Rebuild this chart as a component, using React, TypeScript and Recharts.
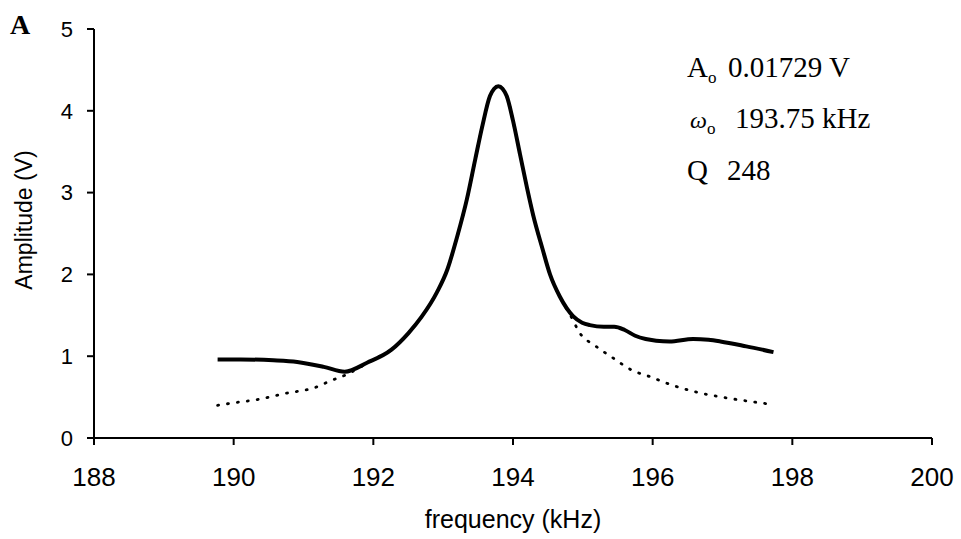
import React from "react";
import { LineChart, Line, XAxis, YAxis } from "recharts";

const measuredFreq = [189.77, 190.1, 190.57, 190.91, 191.29, 191.59, 191.91, 192.26, 192.5, 192.69, 192.91, 193.06, 193.2, 193.34, 193.46, 193.56, 193.67, 193.73, 193.79, 193.85, 193.91, 194.0, 194.1, 194.2, 194.29, 194.42, 194.53, 194.67, 194.86, 194.99, 195.1, 195.3, 195.45, 195.6, 195.75, 195.9, 196.05, 196.24, 196.58, 196.8, 196.97, 197.34, 197.73];
const measuredAmp = [0.96, 0.96, 0.95, 0.93, 0.87, 0.81, 0.92, 1.08, 1.28, 1.48, 1.78, 2.06, 2.46, 2.92, 3.41, 3.81, 4.18, 4.27, 4.3, 4.27, 4.18, 3.88, 3.47, 3.06, 2.72, 2.32, 2.0, 1.73, 1.49, 1.41, 1.38, 1.36, 1.36, 1.32, 1.25, 1.21, 1.19, 1.18, 1.21, 1.2, 1.18, 1.12, 1.05];

const fitFreq = [189.77, 190.0, 190.34, 190.77, 191.14, 191.39, 191.6, 191.8, 192.0, 192.26, 192.5, 192.69, 192.91, 193.06, 193.2, 193.34, 193.46, 193.56, 193.67, 193.73, 193.79, 193.85, 193.91, 194.0, 194.1, 194.2, 194.29, 194.42, 194.53, 194.67, 194.86, 194.93, 195.19, 195.43, 195.7, 195.96, 196.3, 196.63, 197.06, 197.63];
const fitAmp = [0.4, 0.43, 0.47, 0.55, 0.61, 0.7, 0.77, 0.86, 0.96, 1.08, 1.28, 1.48, 1.78, 2.06, 2.46, 2.92, 3.41, 3.81, 4.18, 4.27, 4.3, 4.27, 4.18, 3.88, 3.47, 3.06, 2.72, 2.32, 2.0, 1.73, 1.44, 1.32, 1.12, 0.98, 0.83, 0.75, 0.64, 0.56, 0.49, 0.42];

const xTicks = [188, 190, 192, 194, 196, 198, 200];
const yTicks = [0, 1, 2, 3, 4, 5];

const measuredData = measuredFreq.map((f, i) => ({ f, a: measuredAmp[i] }));
const fitData = fitFreq.map((f, i) => ({ f, a: fitAmp[i] }));

const sans = "'Liberation Sans', Arial, sans-serif";
const serif = "'Liberation Serif', 'Times New Roman', serif";

export default function App() {
  return (
    <div style={{ position: "absolute", left: 0, top: 0, width: 961, height: 539, background: "#fff" }}>
      <LineChart width={961} height={539} margin={{ top: 29, right: 29, left: 34, bottom: 41 }}>
        <XAxis
          type="number"
          dataKey="f"
          domain={[188, 200]}
          ticks={xTicks}
          allowDataOverflow
          height={60}
          axisLine={{ stroke: "#000", strokeWidth: 2 }}
          tickLine={{ stroke: "#000", strokeWidth: 2 }}
          tickSize={7}
          tickMargin={23}
          tick={{ fontSize: 26, fill: "#000", fontFamily: sans }}
        />
        <YAxis
          type="number"
          domain={[0, 5]}
          ticks={yTicks}
          width={60}
          axisLine={{ stroke: "#000", strokeWidth: 2 }}
          tickLine={{ stroke: "#000", strokeWidth: 2 }}
          tickSize={7}
          tickMargin={14}
          tick={{ fontSize: 22, fill: "#000", fontFamily: sans }}
        />
        <Line
          data={fitData}
          dataKey="a"
          type="monotone"
          dot={false}
          stroke="#000"
          strokeWidth={2.8}
          strokeDasharray="1 9"
          strokeLinecap="round"
          isAnimationActive={false}
        />
        <Line
          data={measuredData}
          dataKey="a"
          type="monotone"
          dot={false}
          stroke="#000"
          strokeWidth={4}
          isAnimationActive={false}
        />
      </LineChart>
      <svg width={961} height={539} style={{ position: "absolute", left: 0, top: 0, pointerEvents: "none" }}>
        <text x={10} y={34} fontFamily={serif} fontWeight="bold" fontSize={28} fill="#000">A</text>
        <text x={687} y={77} fontFamily={serif} fontSize={29} fill="#000">
          A<tspan fontSize={17} dy={6}>o</tspan>
          <tspan x={728} dy={-6}>0.01729 V</tspan>
        </text>
        <text x={690} y={128} fontFamily={serif} fontSize={29} fill="#000">
          <tspan fontStyle="italic" fontSize={24}>ω</tspan>
          <tspan fontSize={17} dy={6}>o</tspan>
          <tspan x={735} dy={-6}>193.75 kHz</tspan>
        </text>
        <text x={687} y={180} fontFamily={serif} fontSize={29} fill="#000">
          Q<tspan x={727}>248</tspan>
        </text>
        <text
          x={32}
          y={220}
          transform="rotate(-90 32 220)"
          textAnchor="middle"
          fontFamily={sans}
          fontSize={23}
          fill="#000"
        >
          Amplitude (V)
        </text>
        <text x={513} y={528} textAnchor="middle" fontFamily={sans} fontSize={25} fill="#000">
          frequency (kHz)
        </text>
      </svg>
    </div>
  );
}
